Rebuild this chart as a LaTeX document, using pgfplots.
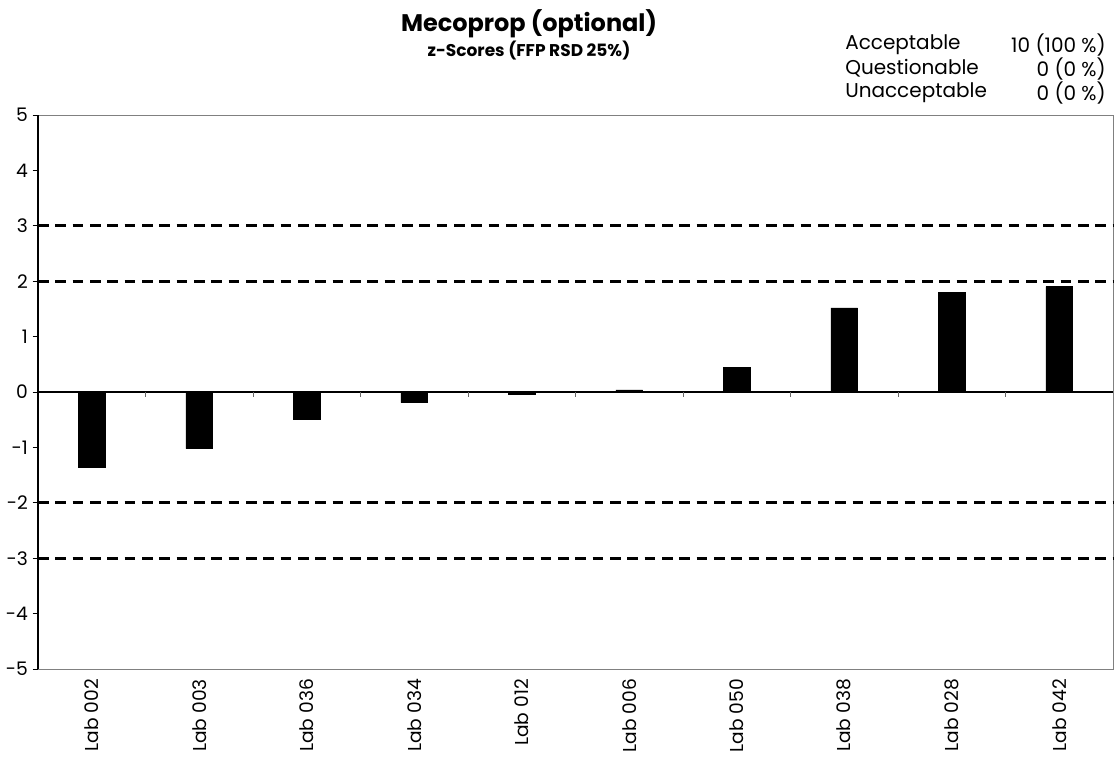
\documentclass[border=0pt]{standalone}
\usepackage{fontspec}
\setmainfont{Poppins}
\usepackage{pgfplots}
\pgfplotsset{compat=1.18}
\begin{document}
\begin{tikzpicture}[x=1pt,y=1pt]
\useasboundingbox (0,0) rectangle (837,567);
\begin{axis}[
    at={(28.5pt,65.25pt)}, anchor=south west,
    width=806.25pt, height=415.5pt, scale only axis,
    ybar, bar width=20pt,
    ymin=-5, ymax=5, xmin=-0.5, xmax=9.5,
    ytick={-5,-4,...,5},
    yticklabels={\textrm{-5},\textrm{-4},\textrm{-3},\textrm{-2},\textrm{-1},\textrm{0},\textrm{1},\textrm{2},\textrm{3},\textrm{4},\textrm{5}},
    xtick={0,...,9},
    xticklabels={Lab 002,Lab 003,Lab 036,Lab 034,Lab 012,Lab 006,Lab 050,Lab 038,Lab 028,Lab 042},
    x tick label style={rotate=90, anchor=east, font=\fontsize{14}{16}\selectfont},
    y tick label style={font=\fontsize{14}{16}\selectfont},
    xtick style={draw=none},
    ytick style={black, line width=0.6pt},
    tick align=outside, ytick pos=left, xtick pos=bottom,
    major tick length=4pt,
    axis line style={gray, line width=0.6pt},
    clip=false,
]
\addplot[fill=black, draw=black] coordinates {
    (0,-1.35) (1,-1.02) (2,-0.49) (3,-0.19) (4,-0.04)
    (5,0.04) (6,0.45) (7,1.52) (8,1.80) (9,1.90)
};
\draw[black, line width=0.8pt] (axis cs:-0.5,-5) -- (axis cs:-0.5,5);
\draw[black, line width=0.8pt] (axis cs:-0.5,0) -- (axis cs:9.5,0);
\pgfplotsinvokeforeach{0.5,1.5,2.5,3.5,4.5,5.5,6.5,7.5,8.5}{
    \draw[gray!80!black, line width=0.6pt] (axis cs:#1,0) -- (axis cs:#1,-0.09);
}
\pgfplotsinvokeforeach{-3,-2,2,3}{
    \draw[black, line width=2pt, dash pattern=on 8pt off 5pt] (axis cs:-0.5,#1) -- (axis cs:9.5,#1);
}
\end{axis}
\node[font=\fontsize{18}{21}\selectfont\bfseries] at (396.75,549) {Mecoprop (optional)};
\node[font=\fontsize{12.75}{15}\selectfont\bfseries] at (396.75,529) {z-Scores (FFP RSD 25\%)};
\begin{scope}[every node/.style={font=\fontsize{15}{17}\selectfont, inner sep=0pt}]
\node[anchor=west] at (633.75,533.5) {Acceptable};
\node[anchor=west] at (633.75,515.5) {Questionable};
\node[anchor=west] at (633.75,497.5) {Unacceptable};
\node[anchor=east] at (829.5,533.5) {10 (100 \%)};
\node[anchor=east] at (829.5,515.5) {0 (0 \%)};
\node[anchor=east] at (829.5,497.5) {0 (0 \%)};
\end{scope}
\end{tikzpicture}
\end{document}
